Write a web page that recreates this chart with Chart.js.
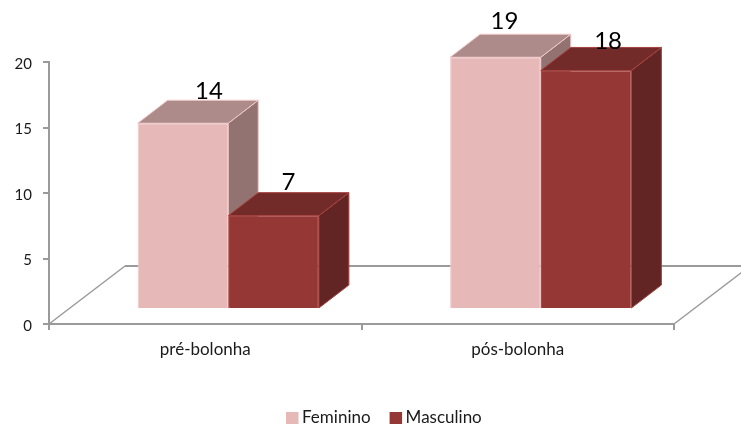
<!DOCTYPE html>
<html>
<head>
<meta charset="utf-8">
<style>
  html, body { margin: 0; padding: 0; background: #fff; }
  canvas { display: block; }
</style>
<script src="https://cdn.jsdelivr.net/npm/chart.js@4"></script>
</head>
<body>
<canvas id="chart" width="741" height="428"></canvas>
<script>
// ── DATA ───────────────────────────────────────────────────────
const categories = ['pré-bolonha', 'pós-bolonha'];
const feminino = [14, 19];
const masculino = [7, 18];

// ── 3D LOOK ────────────────────────────────────────────────────
const FONT = 'Lato, sans-serif';
const GREY = '#9a9a9a';
const barShiftX = 23;                 // bars sit in the middle of the floor depth
const barDepth = { x: 30, y: -23 };
const floorDepth = { x: 76, y: -58 };
const faces = [
  { front: '#e6b9b8', top: '#ad8b8a', side: '#927372', edge: '#f0c9c8' },
  { front: '#953735', top: '#722b29', side: '#632523', edge: '#a8423f' },
];
// hand nudges for the value labels, dx/dy from the top of each bar
const labelNudge = [
  [{ x: 26, y: -32 }, { x: 9, y: -36 }],
  [{ x: 15, y: -33 }, { x: 22, y: -29 }],
];

function poly(ctx, pts, fill, stroke) {
  ctx.beginPath();
  pts.forEach((p, i) => i ? ctx.lineTo(p[0], p[1]) : ctx.moveTo(p[0], p[1]));
  ctx.closePath();
  ctx.fillStyle = fill;
  ctx.fill();
  ctx.strokeStyle = stroke;
  ctx.lineWidth = 1;
  ctx.stroke();
}

function drawFloor(chart) {
  const { ctx, chartArea: a } = chart;
  const yBack = a.bottom + floorDepth.y;
  ctx.save();
  ctx.strokeStyle = GREY;
  ctx.lineWidth = 1.5;
  ctx.beginPath();
  ctx.moveTo(a.left, a.bottom);
  ctx.lineTo(a.left + floorDepth.x, yBack);
  ctx.moveTo(a.right + floorDepth.x, yBack);
  ctx.lineTo(a.right, a.bottom);
  ctx.stroke();
  ctx.lineWidth = 2;
  ctx.beginPath();
  ctx.moveTo(a.left + floorDepth.x, yBack);
  ctx.lineTo(a.right + floorDepth.x, yBack);
  ctx.stroke();
  ctx.restore();
}

function drawLegend(chart) {
  // library legend can't get the box/text gap of the original, so it's drawn here
  const { ctx } = chart;
  let x = 286;
  ctx.save();
  ctx.font = '17px ' + FONT;
  ctx.textBaseline = 'middle';
  chart.data.datasets.forEach((ds, i) => {
    ctx.fillStyle = faces[i].front;
    ctx.fillRect(x, 412, 12.5, 12);
    ctx.fillStyle = '#1a1a1a';
    ctx.fillText(ds.label, x + 16, 418);
    x += 16 + ctx.measureText(ds.label).width + 19;
  });
  ctx.restore();
}

const threeD = {
  id: 'threeD',
  beforeDatasetsDraw(chart) {
    const { ctx } = chart;
    drawFloor(chart);

    // Feminino first so Masculino overlaps it, the library would go the other way
    ctx.save();
    ctx.translate(barShiftX, 0);
    chart.data.datasets.forEach((ds, i) => {
      const c = faces[i];
      const meta = chart.getDatasetMeta(i);
      meta.data.forEach(bar => {
        const l = bar.x - bar.width / 2, r = bar.x + bar.width / 2;
        const t = bar.y, b = bar.base;
        const dx = barDepth.x, dy = barDepth.y;
        poly(ctx, [[r, t], [r + dx, t + dy], [r + dx, b + dy], [r, b]], c.side, c.edge);
        poly(ctx, [[l, t], [l + dx, t + dy], [r + dx, t + dy], [r, t]], c.top, c.edge);
      });
      meta.controller.draw();
    });
    ctx.restore();
  },
  beforeDatasetDraw() {
    return false;   // already drawn above
  },
  afterDatasetsDraw(chart) {
    const { ctx } = chart;
    ctx.save();
    ctx.fillStyle = '#000';
    ctx.font = '24px ' + FONT;
    ctx.textAlign = 'center';
    ctx.textBaseline = 'middle';
    chart.data.datasets.forEach((ds, i) => {
      chart.getDatasetMeta(i).data.forEach((bar, j) => {
        const n = labelNudge[i][j];
        ctx.fillText(ds.data[j], bar.x + barShiftX + n.x, bar.y + n.y);
      });
    });
    ctx.restore();
    drawLegend(chart);
  },
};

new Chart(document.getElementById('chart'), {
  type: 'bar',
  data: {
    labels: categories,
    datasets: [
      { label: 'Feminino', data: feminino, yAxisID: 'yBar', clip: false,
        backgroundColor: faces[0].front, borderColor: faces[0].edge, borderWidth: 1,
        categoryPercentage: 0.58, barPercentage: 1 },
      { label: 'Masculino', data: masculino, yAxisID: 'yBar', clip: false,
        backgroundColor: faces[1].front, borderColor: faces[1].edge, borderWidth: 1,
        categoryPercentage: 0.58, barPercentage: 1 },
    ],
  },
  options: {
    responsive: false,
    animation: false,
    layout: { padding: { top: 62, right: 67, left: 0, bottom: 44 } },
    scales: {
      x: {
        grid: { drawOnChartArea: false, color: GREY, tickLength: 6, lineWidth: 2 },
        border: { color: GREY, width: 2 },
        ticks: { color: '#1a1a1a', font: { family: FONT, size: 17 }, padding: 9 },
        afterFit: s => { s.height = 60; },
      },
      y: {
        min: 0,
        max: 20,
        grid: { drawOnChartArea: false, color: GREY, tickLength: 6, lineWidth: 2 },
        border: { color: GREY, width: 2 },
        ticks: { stepSize: 5, color: '#1a1a1a', font: { family: FONT, size: 15 }, padding: 11, labelOffset: 2 },
        afterFit: s => { s.width = 49; },
      },
      // the columns stand on the floor, above the axis zero
      yBar: { display: false, min: -1.21, max: 18.64 },
    },
    plugins: {
      tooltip: { enabled: false },
      legend: { display: false },
    },
  },
  plugins: [threeD],
});
</script>
</body>
</html>
